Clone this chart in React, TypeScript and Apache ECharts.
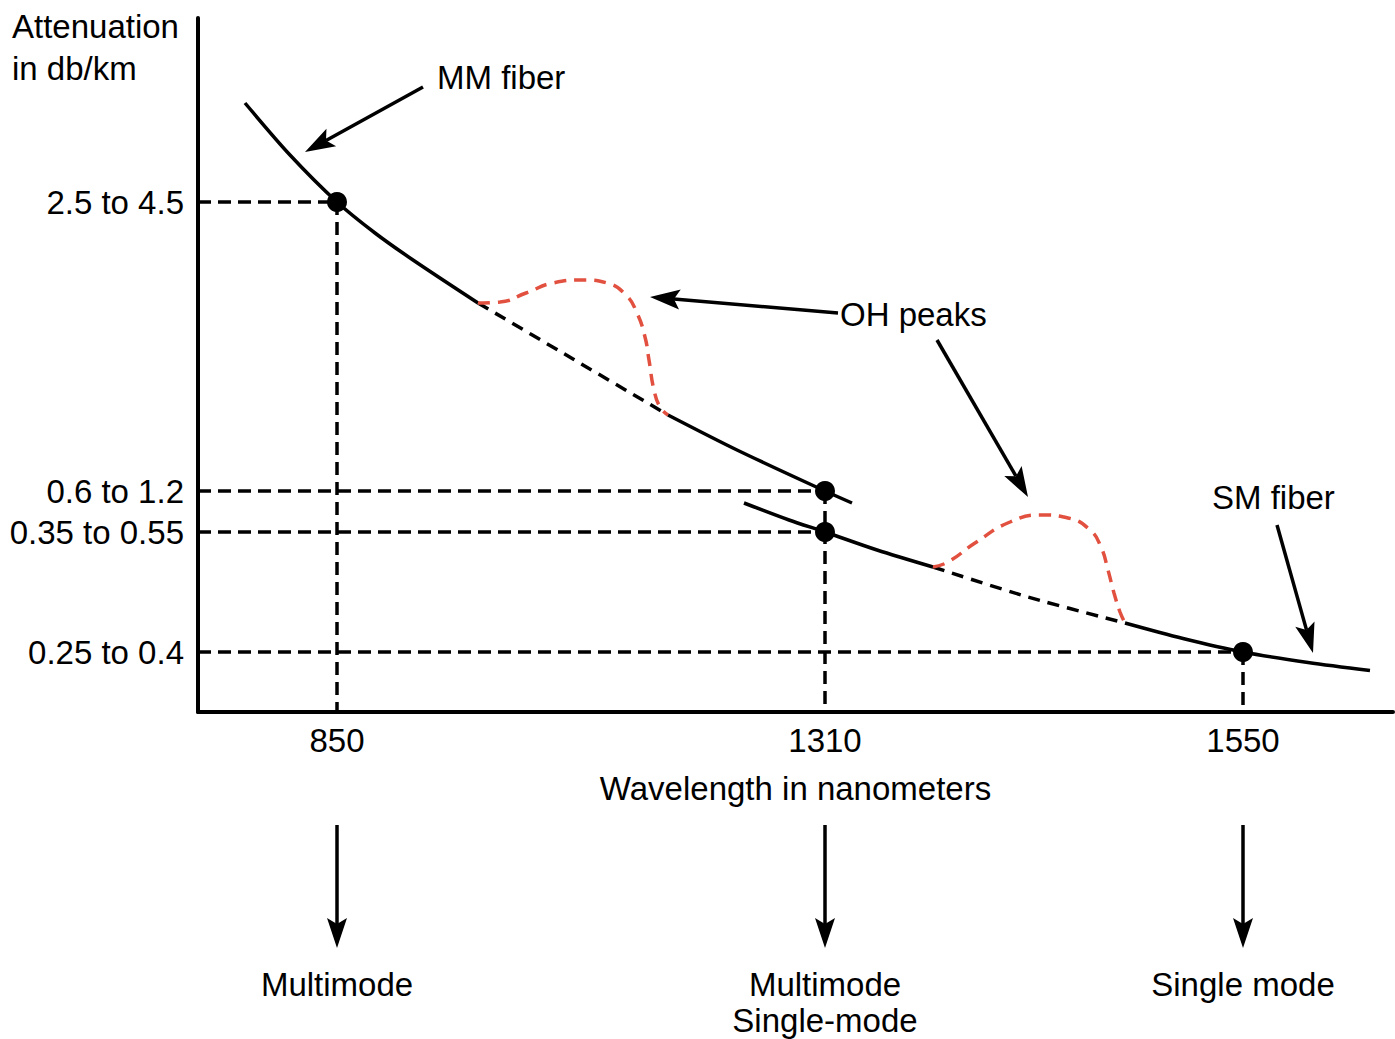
import React, { useEffect, useRef } from "react";
import * as echarts from "echarts";

// Schematic axis positions (the original diagram is not to scale)
const wavelengthLabels = ["850", "1310", "1550"];
const wavelengthPos = [139, 627, 1045];
const attenuationLabels = ["2.5 to 4.5", "0.6 to 1.2", "0.35 to 0.55", "0.25 to 0.4"];
const attenuationPos = [510, 221, 180, 60];
const modeLabels = ["Multimode", "Multimode\nSingle-mode", "Single mode"];

// Multimode fiber attenuation curve
const mmSolidA = [[47, 609], [92, 557], [139, 510], [177, 479], [215, 452], [280, 409]];
const mmDashed = [[280, 409], [375, 353], [470, 297]];
const mmSolidB = [[470, 297], [539, 262], [627, 221], [654, 209]];
const mmPeak = [[280, 409], [302, 410], [328, 419], [355, 429], [386, 432], [409, 429], [428, 417], [439, 399], [447, 375], [451, 352], [456, 322], [462, 305], [470, 297]];

// Single-mode fiber attenuation curve
const smSolidA = [[546, 209], [591, 192], [627, 180], [679, 162], [735, 145]];
const smDashed = [[735, 145], [830, 115], [927, 89]];
const smSolidB = [[927, 89], [985, 73.5], [1045, 60], [1110, 49.5], [1172, 41.5]];
const smPeak = [[735, 145], [750, 150], [777, 169], [812, 190], [843, 197], [870, 194], [892, 182], [903, 165], [910, 142], [916, 119], [922, 100], [927, 89]];

// Marker points: (wavelength index, attenuation index)
const markerIdx = [[0, 0], [1, 1], [1, 2], [2, 3]];

// Annotation arrows [from, to]
const annotationArrows = [
  [[225, 625], [107, 560]],
  [[640, 399], [452, 415]],
  [[739, 372], [830, 215]],
  [[1079, 187], [1115, 59]],
];
const annotationTexts = [
  { text: "MM fiber", pos: [239, 635] },
  { text: "OH peaks", pos: [642, 398] },
  { text: "SM fiber", pos: [1014, 215] },
];
const modeArrowY = [-113, -236];
const modeLabelTop = -254;
const yTitle = ["Attenuation", "in db/km"];
const yTitlePos = [[-186, 686], [-186, 644]];

const FONT = '"Liberation Sans", Arial, Helvetica, sans-serif';
const RED = "#e2503f";
const FS = 33;
const LW = 3.5;

export default function App() {
  const ref = useRef<HTMLDivElement>(null);

  useEffect(() => {
    if (!ref.current) return;
    const chart = echarts.init(ref.current, null, { renderer: "svg" });

    const markers = markerIdx.map(([w, a]) => [wavelengthPos[w], attenuationPos[a]]);

    const curve = (data: number[][], color: string, dashed: boolean, z: number, smooth: number) => ({
      type: "line",
      data,
      smooth,
      symbol: "none",
      silent: true,
      z,
      lineStyle: { color, width: LW, type: dashed ? [12, 8] : "solid" },
    });

    const guides: any[] = [];
    markers.forEach(([x, y]) => {
      guides.push({
        type: "line",
        data: [[0, y], [x, y]],
        symbol: "none",
        silent: true,
        z: 1,
        lineStyle: { color: "#000", width: LW, type: [13, 7] },
      });
    });
    const uniqueX = Array.from(new Set(markers.map((m) => m[0])));
    uniqueX.forEach((x) => {
      const top = Math.max(...markers.filter((m) => m[0] === x).map((m) => m[1]));
      guides.push({
        type: "line",
        data: [[x, top], [x, 0]],
        symbol: "none",
        silent: true,
        z: 1,
        lineStyle: { color: "#000", width: LW, type: [13, 7] },
      });
    });

    chart.setOption({
      animation: false,
      backgroundColor: "#fff",
      grid: { left: 198, right: 2, top: 18, bottom: 327, containLabel: false, outerBoundsMode: "none" },
      xAxis: {
        type: "value",
        min: 0,
        max: 1195,
        axisLine: { show: true, lineStyle: { color: "#000", width: 4 } },
        axisTick: { show: false },
        splitLine: { show: false },
        axisLabel: {
          customValues: wavelengthPos,
          formatter: (v: number) => wavelengthLabels[wavelengthPos.indexOf(v)] ?? "",
          color: "#000",
          fontSize: FS,
          fontFamily: FONT,
          margin: 12,
        },
        name: "Wavelength in nanometers",
        nameLocation: "middle",
        nameGap: 60,
        nameTextStyle: { color: "#000", fontSize: FS, fontFamily: FONT },
      },
      yAxis: {
        type: "value",
        min: 0,
        max: 694,
        axisLine: { show: true, lineStyle: { color: "#000", width: 4 } },
        axisTick: { show: false },
        splitLine: { show: false },
        axisLabel: {
          customValues: attenuationPos,
          formatter: (v: number) => attenuationLabels[attenuationPos.indexOf(v)] ?? "",
          color: "#000",
          fontSize: FS,
          fontFamily: FONT,
          margin: 14,
        },
      },
      series: [
        ...guides,
        curve(mmSolidA, "#000", false, 3, 0.3),
        curve(mmDashed, "#000", true, 3, 0.3),
        curve(mmSolidB, "#000", false, 3, 0.3),
        curve(mmPeak, RED, true, 3, 0.5),
        curve(smSolidA, "#000", false, 3, 0.3),
        curve(smDashed, "#000", true, 3, 0.3),
        curve(smSolidB, "#000", false, 3, 0.3),
        curve(smPeak, RED, true, 3, 0.5),
        {
          type: "scatter",
          data: markers,
          symbol: "circle",
          symbolSize: 20,
          itemStyle: { color: "#000", opacity: 1 },
          silent: true,
          z: 5,
        },
      ],
    });

    const px = (p: number[]) => chart.convertToPixel({ gridIndex: 0 }, p) as number[];
    const graphics: any[] = [];

    const addArrow = (from: number[], to: number[]) => {
      const a = px(from);
      const b = px(to);
      const dx = b[0] - a[0];
      const dy = b[1] - a[1];
      const len = Math.hypot(dx, dy);
      const ux = dx / len;
      const uy = dy / len;
      const nx = -uy;
      const ny = ux;
      const L = 30;
      const W = 10;
      const base = [b[0] - ux * L, b[1] - uy * L];
      const notch = [b[0] - ux * L * 0.8, b[1] - uy * L * 0.8];
      graphics.push({
        type: "line",
        shape: { x1: a[0], y1: a[1], x2: notch[0], y2: notch[1] },
        style: { stroke: "#000", lineWidth: 3.5 },
        z: 10,
      });
      graphics.push({
        type: "polygon",
        shape: {
          points: [
            [b[0], b[1]],
            [base[0] + nx * W, base[1] + ny * W],
            notch,
            [base[0] - nx * W, base[1] - ny * W],
          ],
        },
        style: { fill: "#000" },
        z: 10,
      });
    };

    annotationArrows.forEach(([f, t]) => addArrow(f, t));
    wavelengthPos.forEach((x) => addArrow([x, modeArrowY[0]], [x, modeArrowY[1]]));

    const addText = (text: string, p: number[], align: string, vAlign: string) => {
      const q = px(p);
      graphics.push({
        type: "text",
        x: q[0],
        y: q[1],
        z: 10,
        style: {
          text,
          fill: "#000",
          fontSize: FS,
          fontFamily: FONT,
          align,
          textAlign: align,
          verticalAlign: vAlign,
          textVerticalAlign: vAlign,
          lineHeight: 36,
        },
      });
    };

    annotationTexts.forEach((t) => addText(t.text, t.pos, "left", "middle"));
    yTitle.forEach((t, i) => addText(t, yTitlePos[i], "left", "middle"));
    wavelengthPos.forEach((x, i) => addText(modeLabels[i], [x, modeLabelTop], "center", "top"));

    chart.setOption({ graphic: graphics });

    return () => chart.dispose();
  }, []);

  return (
    <div
      ref={ref}
      style={{ position: "absolute", left: 0, top: 0, width: 1395, height: 1039, background: "#fff" }}
    />
  );
}
